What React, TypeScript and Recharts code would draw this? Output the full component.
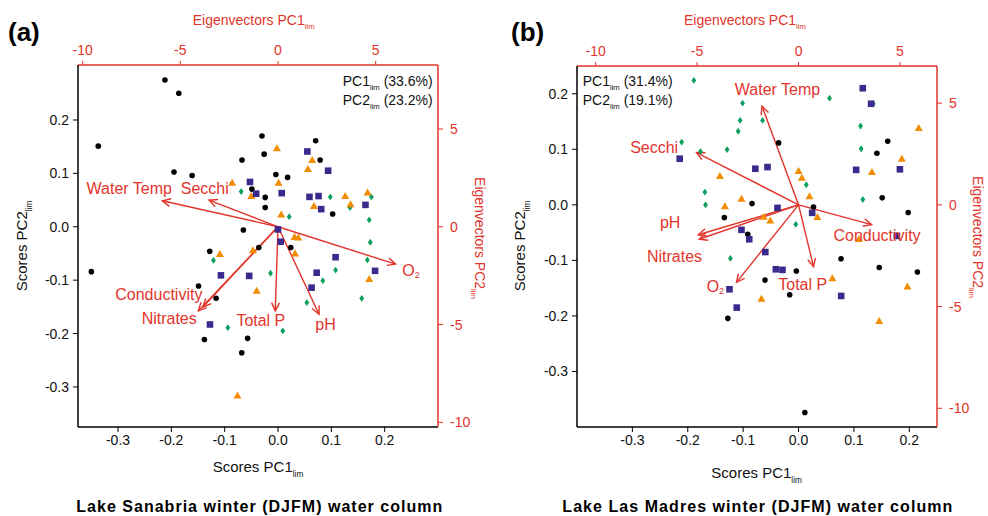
import React from "react";
import { ScatterChart, Scatter, XAxis, YAxis, ReferenceLine } from "recharts";

const FONT = '"Liberation Sans", Arial, Helvetica, sans-serif';
const RED = "#e2342b";
const INK = "#111111";
const PURPLE = "#3b2a8e";
const ORANGE = "#f28c00";
const GREEN = "#0a9f5c";

// eigenvector units per score unit (same ratio in both panels)
const EIG_PER_SCORE = 27.3;

const scoreTicks = [-0.3, -0.2, -0.1, 0, 0.1, 0.2];
const eigTicks = [-10, -5, 0, 5];

// ---------- (a) Lake Sanabria ----------
const sanCircles = [
  { x: -0.212, y: 0.275 }, { x: -0.186, y: 0.25 }, { x: -0.337, y: 0.151 }, { x: -0.195, y: 0.1025 },
  { x: -0.161, y: 0.096 }, { x: -0.03, y: 0.17 }, { x: -0.026, y: 0.136 }, { x: -0.0675, y: 0.125 },
  { x: 0.0706, y: 0.161 }, { x: 0.079, y: 0.125 }, { x: -0.004, y: 0.098 }, { x: 0.018, y: 0.0925 },
  { x: -0.049, y: 0.0706 }, { x: -0.024, y: 0.055 }, { x: -0.024, y: 0.036 }, { x: 0.1025, y: 0.024 },
  { x: -0.065, y: -0.006 }, { x: -0.036, y: -0.039 }, { x: 0.024, y: -0.039 }, { x: -0.128, y: -0.046 },
  { x: -0.35, y: -0.084 }, { x: -0.149, y: -0.111 }, { x: -0.116, y: -0.134 }, { x: -0.138, y: -0.211 },
  { x: -0.057, y: -0.209 }, { x: -0.068, y: -0.236 },
];
const sanSquares = [
  { x: 0.055, y: 0.141 }, { x: 0.094, y: 0.105 }, { x: -0.0525, y: 0.084 }, { x: -0.041, y: 0.062 },
  { x: 0.007, y: 0.063 }, { x: 0.059, y: 0.056 }, { x: 0.076, y: 0.0575 }, { x: 0.081, y: 0.033 },
  { x: 0.164, y: 0.041 }, { x: 0.0, y: -0.005 }, { x: 0.005, y: -0.028 }, { x: 0.108, y: -0.057 },
  { x: 0.0725, y: -0.086 }, { x: 0.182, y: -0.0825 }, { x: -0.107, y: -0.091 }, { x: -0.054, y: -0.092 },
  { x: 0.063, y: -0.114 }, { x: -0.1275, y: -0.183 },
];
const sanTriangles = [
  { x: -0.002, y: 0.147 }, { x: 0.064, y: 0.125 }, { x: 0.056, y: 0.108 }, { x: 0.001, y: 0.0825 },
  { x: -0.086, y: 0.0825 }, { x: -0.05, y: 0.0575 }, { x: 0.126, y: 0.0575 }, { x: 0.168, y: 0.064 },
  { x: 0.136, y: 0.042 }, { x: 0.0675, y: 0.039 }, { x: 0.006, y: 0.023 }, { x: 0.031, y: -0.019 },
  { x: 0.038, y: -0.02 }, { x: -0.047, y: -0.044 }, { x: 0.032, y: -0.05 }, { x: -0.109, y: -0.051 },
  { x: 0.171, y: -0.098 }, { x: -0.04, y: -0.12 }, { x: -0.076, y: -0.316 },
];
const sanDiamonds = [
  { x: -0.069, y: 0.066 }, { x: 0.098, y: 0.056 }, { x: 0.175, y: 0.056 }, { x: 0.135, y: 0.036 },
  { x: 0.021, y: 0.019 }, { x: 0.171, y: 0.013 }, { x: 0.173, y: -0.029 }, { x: 0.1675, y: -0.062 },
  { x: -0.121, y: -0.063 }, { x: 0.108, y: -0.081 }, { x: -0.014, y: -0.087 }, { x: 0.084, y: -0.101 },
  { x: 0.157, y: -0.134 }, { x: 0.054, y: -0.142 }, { x: -0.094, y: -0.189 }, { x: 0.009, y: -0.195 },
];
// eigenvectors (PC1, PC2)
const sanVectors = [
  { name: "Water Temp", x: -5.92, y: 1.33 },
  { name: "Secchi", x: -3.53, y: 1.36 },
  { name: "O2", x: 6.02, y: -1.91 },
  { name: "Conductivity", x: -3.84, y: -4.1 },
  { name: "Nitrates", x: -4.08, y: -4.3 },
  { name: "Total P", x: -0.14, y: -4.3 },
  { name: "pH", x: 2.1, y: -4.47 },
];
const sanVectorLabels = [
  { name: "Water Temp", x: -9.8, y: 1.98 },
  { name: "Secchi", x: -4.98, y: 1.98 },
  { name: "O2", x: 6.36, y: -2.25 },
  { name: "Conductivity", x: -8.33, y: -3.44 },
  { name: "Nitrates", x: -6.98, y: -4.67 },
  { name: "Total P", x: -2.13, y: -4.78 },
  { name: "pH", x: 1.91, y: -5.02 },
];

// ---------- (b) Lake Las Madres ----------
const madCircles = [
  { x: -0.036, y: 0.1115 }, { x: 0.161, y: 0.1145 }, { x: 0.1415, y: 0.093 }, { x: 0.151, y: 0.0126 },
  { x: 0.198, y: -0.0138 }, { x: -0.084, y: 0.0024 }, { x: -0.134, y: -0.023 }, { x: 0.027, y: -0.004 },
  { x: -0.0917, y: -0.053 }, { x: 0.0767, y: -0.097 }, { x: 0.1457, y: -0.1127 }, { x: 0.2146, y: -0.121 },
  { x: -0.004, y: -0.119 }, { x: -0.0606, y: -0.1355 }, { x: -0.016, y: -0.162 }, { x: -0.1277, y: -0.2044 },
  { x: 0.0114, y: -0.374 },
];
const madSquares = [
  { x: 0.116, y: 0.21 }, { x: 0.131, y: 0.182 }, { x: -0.2146, y: 0.083 }, { x: -0.078, y: 0.065 },
  { x: -0.056, y: 0.068 }, { x: 0.104, y: 0.063 }, { x: 0.183, y: 0.064 }, { x: -0.038, y: -0.0054 },
  { x: 0.0246, y: -0.0144 }, { x: -0.103, y: -0.045 }, { x: -0.089, y: -0.062 }, { x: -0.06, y: -0.085 },
  { x: -0.041, y: -0.116 }, { x: -0.029, y: -0.117 }, { x: -0.1247, y: -0.152 }, { x: -0.1115, y: -0.185 },
  { x: 0.077, y: -0.164 }, { x: 0.1775, y: -0.056 },
];
const madTriangles = [
  { x: 0.217, y: 0.1385 }, { x: 0.1865, y: 0.083 }, { x: 0.1325, y: 0.059 }, { x: 0.0, y: 0.061 },
  { x: 0.006, y: 0.049 }, { x: 0.0198, y: 0.0156 }, { x: -0.142, y: 0.052 }, { x: -0.103, y: 0.0108 },
  { x: -0.133, y: -0.0024 }, { x: -0.063, y: -0.0216 }, { x: -0.051, y: -0.028 }, { x: 0.034, y: -0.022 },
  { x: 0.109, y: -0.0617 }, { x: 0.061, y: -0.132 }, { x: -0.067, y: -0.169 }, { x: 0.1966, y: -0.147 },
  { x: 0.1457, y: -0.209 },
];
const madDiamonds = [
  { x: -0.189, y: 0.224 }, { x: -0.101, y: 0.183 }, { x: -0.1055, y: 0.152 }, { x: -0.109, y: 0.1325 },
  { x: -0.065, y: 0.152 }, { x: -0.211, y: 0.113 }, { x: -0.177, y: 0.096 }, { x: -0.129, y: 0.0995 },
  { x: -0.169, y: 0.023 }, { x: -0.168, y: 0.0 }, { x: 0.014, y: 0.036 }, { x: -0.005, y: -0.035 },
  { x: -0.123, y: -0.0965 }, { x: 0.056, y: 0.192 }, { x: 0.135, y: 0.182 }, { x: 0.112, y: 0.142 },
  { x: 0.113, y: 0.101 }, { x: 0.116, y: 0.0096 },
];
const madVectors = [
  { name: "Water Temp", x: -1.8, y: 4.85 },
  { name: "Secchi", x: -5.03, y: 2.57 },
  { name: "pH", x: -4.94, y: -1.47 },
  { name: "Nitrates", x: -4.89, y: -1.69 },
  { name: "O2", x: -3.06, y: -3.81 },
  { name: "Total P", x: 0.74, y: -3.04 },
  { name: "Conductivity", x: 3.6, y: -0.97 },
];
const madVectorLabels = [
  { name: "Water Temp", x: -3.14, y: 5.67 },
  { name: "Secchi", x: -8.3, y: 2.8 },
  { name: "pH", x: -6.83, y: -0.88 },
  { name: "Nitrates", x: -7.47, y: -2.55 },
  { name: "O2", x: -4.53, y: -4.03 },
  { name: "Total P", x: -1.0, y: -3.91 },
  { name: "Conductivity", x: 1.72, y: -1.49 },
];

const Circle = (p: any) => <circle cx={p.cx} cy={p.cy} r={2.8} fill="#000" />;
const Square = (p: any) => <rect x={p.cx - 3.3} y={p.cy - 3.3} width={6.6} height={6.6} fill={PURPLE} />;
const Triangle = (p: any) => (
  <polygon points={`${p.cx},${p.cy - 4} ${p.cx + 4},${p.cy + 3} ${p.cx - 4},${p.cy + 3}`} fill={ORANGE} />
);
const Diamond = (p: any) => (
  <polygon points={`${p.cx},${p.cy - 3.4} ${p.cx + 2.4},${p.cy} ${p.cx},${p.cy + 3.4} ${p.cx - 2.4},${p.cy}`} fill={GREEN} />
);

function Arrow(p: any) {
  const { x1, y1, x2, y2 } = p;
  const ang = Math.atan2(y2 - y1, x2 - x1);
  const L = 9;
  const s = 0.45;
  const a1 = ang + Math.PI - s;
  const a2 = ang + Math.PI + s;
  return (
    <g>
      <line x1={x1} y1={y1} x2={x2} y2={y2} stroke={RED} strokeWidth={1.4} />
      <path
        d={`M${x2 + L * Math.cos(a1)},${y2 + L * Math.sin(a1)}L${x2},${y2}L${x2 + L * Math.cos(a2)},${y2 + L * Math.sin(a2)}`}
        fill="none"
        stroke={RED}
        strokeWidth={1.4}
      />
    </g>
  );
}

function VecLabel(p: any) {
  const name = p.payload?.name;
  return (
    <text x={p.cx} y={p.cy} dominantBaseline="central" fill={RED} fontSize={16} fontFamily={FONT}>
      {name === "O2" ? (
        <>
          O<tspan fontSize={9} dy={4}>2</tspan>
        </>
      ) : (
        name
      )}
    </text>
  );
}

function SubText({ x, y, main, sub, after, size, fill, anchor = "start", rotate = 0 }: any) {
  const shift = size * 0.3;
  return (
    <text
      x={x}
      y={y}
      fill={fill}
      fontSize={size}
      fontFamily={FONT}
      textAnchor={anchor}
      transform={rotate ? `rotate(${rotate} ${x} ${y})` : undefined}
    >
      {main}
      <tspan fontSize={size * 0.55} dy={shift}>{sub}</tspan>
      {after ? <tspan fontSize={size} dy={-shift}>{after}</tspan> : null}
    </text>
  );
}

const fmtScore = (v: number) => v.toFixed(1);

function Panel(props: any) {
  const { left, margin, xDomain, yDomain, rightWidth, circles, squares, triangles, diamonds, vectors, labels } = props;
  const ex = xDomain.map((v: number) => v * EIG_PER_SCORE);
  const ey = yDomain.map((v: number) => v * EIG_PER_SCORE);
  const blackTick = { fill: INK, fontSize: 14, fontFamily: FONT };
  const redTick = { fill: RED, fontSize: 14, fontFamily: FONT };
  return (
    <div style={{ position: "absolute", left, top: 0 }}>
      <ScatterChart width={494} height={516} margin={margin}>
        <XAxis
          xAxisId="s"
          type="number"
          dataKey="x"
          orientation="bottom"
          domain={xDomain}
          ticks={scoreTicks}
          interval={0}
          allowDataOverflow
          tickFormatter={fmtScore}
          height={30}
          tick={blackTick}
          tickSize={5}
          tickMargin={3}
          axisLine={{ stroke: "#000", strokeWidth: 1.5 }}
          tickLine={{ stroke: "#000" }}
        />
        <XAxis
          xAxisId="e"
          type="number"
          dataKey="x"
          orientation="top"
          domain={ex}
          ticks={eigTicks}
          interval={0}
          allowDataOverflow
          height={30}
          tick={redTick}
          tickSize={4}
          tickMargin={6}
          axisLine={{ stroke: RED, strokeWidth: 1.5 }}
          tickLine={{ stroke: RED }}
        />
        <YAxis
          yAxisId="s"
          type="number"
          dataKey="y"
          orientation="left"
          domain={yDomain}
          ticks={scoreTicks}
          interval={0}
          allowDataOverflow
          tickFormatter={fmtScore}
          width={50}
          tick={blackTick}
          tickSize={5}
          tickMargin={4}
          axisLine={{ stroke: "#000", strokeWidth: 1.5 }}
          tickLine={{ stroke: "#000" }}
        />
        <YAxis
          yAxisId="e"
          type="number"
          dataKey="y"
          orientation="right"
          domain={ey}
          ticks={eigTicks}
          interval={0}
          allowDataOverflow
          width={rightWidth}
          tick={{ ...redTick, textAnchor: "start" }}
          tickSize={5}
          tickMargin={7}
          axisLine={{ stroke: RED, strokeWidth: 1.5 }}
          tickLine={{ stroke: RED }}
        />
        <Scatter xAxisId="s" yAxisId="s" data={diamonds} shape={Diamond} isAnimationActive={false} />
        <Scatter xAxisId="s" yAxisId="s" data={triangles} shape={Triangle} isAnimationActive={false} />
        <Scatter xAxisId="s" yAxisId="s" data={circles} shape={Circle} isAnimationActive={false} />
        <Scatter xAxisId="s" yAxisId="s" data={squares} shape={Square} isAnimationActive={false} />
        {vectors.map((v: any) => (
          <ReferenceLine
            key={v.name}
            xAxisId="e"
            yAxisId="e"
            ifOverflow="visible"
            segment={[{ x: 0, y: 0 }, { x: v.x, y: v.y }]}
            shape={Arrow}
          />
        ))}
        <Scatter xAxisId="e" yAxisId="e" data={labels} shape={VecLabel} isAnimationActive={false} />
      </ScatterChart>
    </div>
  );
}

export default function App() {
  return (
    <div style={{ position: "absolute", left: 0, top: 0, width: 988, height: 516, background: "#fff", fontFamily: FONT }}>
      <Panel
        left={0}
        margin={{ top: 35, right: 6, bottom: 59, left: 28 }}
        xDomain={[-0.375, 0.3]}
        yDomain={[-0.375, 0.303]}
        rightWidth={50}
        circles={sanCircles}
        squares={sanSquares}
        triangles={sanTriangles}
        diamonds={sanDiamonds}
        vectors={sanVectors}
        labels={sanVectorLabels}
      />
      <Panel
        left={494}
        margin={{ top: 36, right: 6, bottom: 59, left: 33 }}
        xDomain={[-0.4, 0.25]}
        yDomain={[-0.4, 0.25]}
        rightWidth={45}
        circles={madCircles}
        squares={madSquares}
        triangles={madTriangles}
        diamonds={madDiamonds}
        vectors={madVectors}
        labels={madVectorLabels}
      />
      <svg width={988} height={516} style={{ position: "absolute", left: 0, top: 0, pointerEvents: "none" }}>
        {/* panel (a) */}
        <text x={8} y={41} fontSize={26} fontWeight="bold" fontFamily={FONT} fill="#000">(a)</text>
        <SubText x={192.7} y={25} main="Eigenvectors PC1" sub="lim" size={14} fill={RED} />
        <SubText x={212.7} y={472} main="Scores PC1" sub="lim" size={15} fill={INK} />
        <SubText x={27} y={246} main="Scores PC2" sub="lim" size={15} fill={INK} anchor="middle" rotate={-90} />
        <SubText x={475} y={238} main="Eigenvectors PC2" sub="lim" size={14} fill={RED} anchor="middle" rotate={90} />
        <SubText x={342.7} y={86} main="PC1" sub="lim" after=" (33.6%)" size={14} fill={INK} />
        <SubText x={342.7} y={104.5} main="PC2" sub="lim" after=" (23.2%)" size={14} fill={INK} />
        <text x={259.3} y={512} textAnchor="middle" fontSize={16} fontWeight="bold" fontFamily={FONT} textLength={366} lengthAdjust="spacing" fill="#000">
          Lake Sanabria winter (DJFM) water column
        </text>
        {/* panel (b) */}
        <text x={511} y={41} fontSize={26} fontWeight="bold" fontFamily={FONT} fill="#000">(b)</text>
        <SubText x={684} y={25} main="Eigenvectors PC1" sub="lim" size={14} fill={RED} />
        <SubText x={711.3} y={478} main="Scores PC1" sub="lim" size={15} fill={INK} />
        <SubText x={525} y={246} main="Scores PC2" sub="lim" size={15} fill={INK} anchor="middle" rotate={-90} />
        <SubText x={973} y={237} main="Eigenvectors PC2" sub="lim" size={14} fill={RED} anchor="middle" rotate={90} />
        <SubText x={582.7} y={86} main="PC1" sub="lim" after=" (31.4%)" size={14} fill={INK} />
        <SubText x={582.7} y={104.5} main="PC2" sub="lim" after=" (19.1%)" size={14} fill={INK} />
        <text x={757.3} y={512} textAnchor="middle" fontSize={16} fontWeight="bold" fontFamily={FONT} textLength={390} lengthAdjust="spacing" fill="#000">
          Lake Las Madres winter (DJFM) water column
        </text>
      </svg>
    </div>
  );
}
